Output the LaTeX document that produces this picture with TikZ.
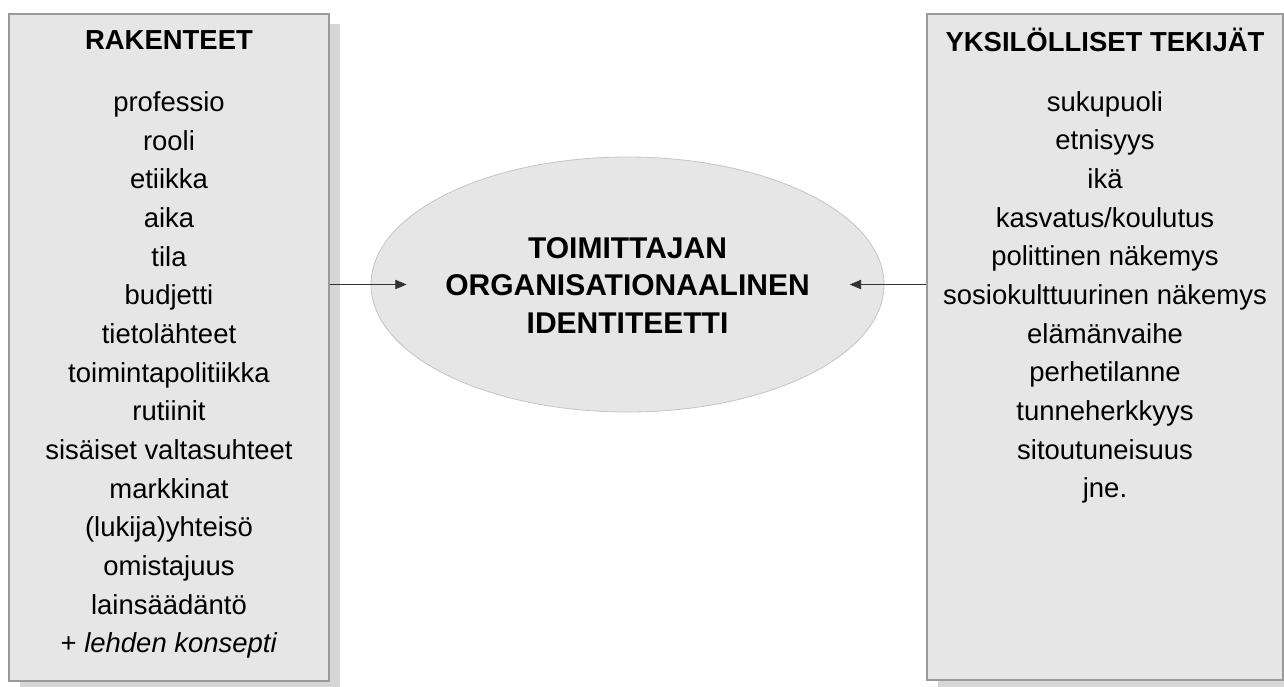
\documentclass[tikz,border=0pt]{standalone}
\usepackage{fontspec}
\setmainfont{Liberation Sans}
\usepackage{tikz}
\usetikzlibrary{arrows.meta,shapes.geometric,shadows}

\definecolor{boxgray}{HTML}{E6E6E6}
\definecolor{edgegray}{HTML}{9A9A9A}
\definecolor{shadegray}{HTML}{D6D6D6}
\definecolor{ringgray}{HTML}{C4C4C4}

\tikzset{
	factorbox/.style={draw=edgegray,fill=boxgray,line width=0.8pt,inner sep=0pt,
		drop shadow={shadow xshift=8pt,shadow yshift=-7.5pt,fill=shadegray,opacity=1}},
	listtext/.style={align=center,font=\fontsize{20.6pt}{29pt}\selectfont},
	headtext/.style={font=\fontsize{20.6pt}{29pt}\selectfont\bfseries},
	influence/.style={draw=black!80,line width=0.7pt,-{Triangle[length=8.5pt,width=7pt]}}
}

\begin{document}
\begin{tikzpicture}[x=0.75pt,y=-0.75pt]
		\useasboundingbox (0,0) rectangle (1284,686);
		
		\node[factorbox,minimum width=240pt,minimum height=500.25pt] (rakenteet) at (169,347.5) {};
		\node[factorbox,minimum width=267pt,minimum height=499.5pt] (yksilo) at (1105,347) {};
		
		\node[ellipse,draw=ringgray,fill=boxgray,line width=0.6pt,inner sep=0pt,
			minimum width=384.75pt,minimum height=191.25pt] (identiteetti) at (627.5,284.5) {};
		
		\node[headtext] (rakhead) at (169,40) {RAKENTEET};
		\node[headtext] (yksihead) at (1105,40) {YKSILÖLLISET TEKIJÄT};
		
		\node[listtext] (raklist) at (169,375) {professio\\rooli\\etiikka\\aika\\tila\\budjetti\\tietolähteet\\toimintapolitiikka\\rutiinit\\sisäiset valtasuhteet\\markkinat\\(lukija)yhteisö\\omistajuus\\lainsäädäntö\\+ \textit{lehden konsepti}};
		\node[listtext] (yksilist) at (1105,297.5) {sukupuoli\\etnisyys\\ikä\\kasvatus/koulutus\\polittinen näkemys\\sosiokulttuurinen näkemys\\elämänvaihe\\perhetilanne\\tunneherkkyys\\sitoutuneisuus\\jne.};
		
		\node[listtext,font=\fontsize{22.5pt}{28.1pt}\selectfont\bfseries] (idtext) at (627.5,285.5) {TOIMITTAJAN\\ORGANISATIONAALINEN\\IDENTITEETTI};
		
		\draw[influence,shorten >=-27pt] (rakenteet.east |- identiteetti.west) -- (identiteetti.west);
		\draw[influence,shorten >=-26pt] (yksilo.west |- identiteetti.east) -- (identiteetti.east);
	\end{tikzpicture}
\end{document}
